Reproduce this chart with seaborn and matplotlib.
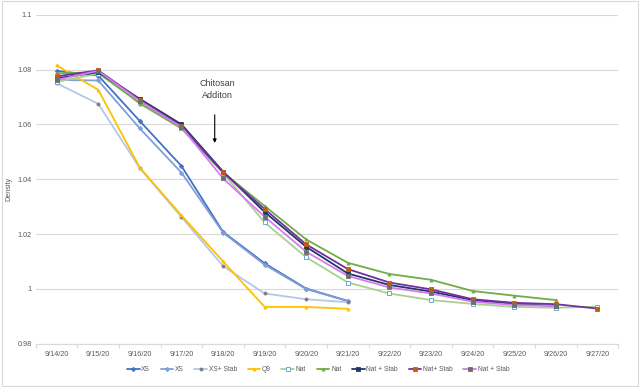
import matplotlib
matplotlib.use("Agg")
import matplotlib.pyplot as plt
import seaborn as sns
import numpy as np
from matplotlib.patches import Rectangle

dates = ["9/14/20", "9/15/20", "9/16/20", "9/17/20", "9/18/20", "9/19/20", "9/20/20",
         "9/21/20", "9/22/20", "9/23/20", "9/24/20", "9/25/20", "9/26/20", "9/27/20"]

xs_a = [1.0795, 1.0778, 1.0612, 1.0448, 1.0208, 1.0093, 1.0001, 0.9956]
xs_b = [1.0762, 1.0760, 1.0585, 1.0424, 1.0205, 1.0088, 0.9999, 0.9955]
xs_stab = [1.0750, 1.0675, 1.0440, 1.0262, 1.0083, 0.9983, 0.9962, 0.9951]
q9 = [1.0815, 1.0726, 1.0442, 1.0268, 1.0100, 0.9934, 0.9934, 0.9927]
nat_a = [1.0755, 1.0785, 1.0680, 1.0587, 1.0423, 1.0242, 1.0115, 1.0023, 0.9983, 0.9959,
         0.9945, 0.9934, 0.9931, 0.9935]
nat_b = [1.0786, 1.0790, 1.0676, 1.0585, 1.0425, 1.0302, 1.0180, 1.0095, 1.0054, 1.0033,
         0.9992, 0.9975, 0.9959]
nat_stab_a = [1.0768, 1.0790, 1.0693, 1.0600, 1.0428, 1.0280, 1.0153, 1.0056, 1.0014, 0.9990,
              0.9959, 0.9945, 0.9938]
nat_stab_b = [1.0775, 1.0797, 1.0690, 1.0594, 1.0425, 1.0291, 1.0162, 1.0072, 1.0023, 0.9998,
              0.9962, 0.9949, 0.9944, 0.9928]
nat_stab_c = [1.0762, 1.0795, 1.0685, 1.0590, 1.0403, 1.0263, 1.0135, 1.0047, 1.0005, 0.9983,
              0.9953, 0.9941, 0.9937]

labels = ["XS", "XS", "XS+ Stab", "Q9", "Nat", "Nat", "Nat + Stab", "Nat+ Stab", "Nat + Stab"]
series = [xs_a, xs_b, xs_stab, q9, nat_a, nat_b, nat_stab_a, nat_stab_b, nat_stab_c]
line_colors = ["#4472C4", "#7F9FD8", "#B4C7E7", "#FFC000", "#A9D18E", "#70AD47",
               "#1F3864", "#7030A0", "#D77CF0"]
marker_face = ["#4472C4", "#7F9FD8", "#7F7F7F", "#FFC000", "white", "#70AD47",
               "#1F3864", "#C55A11", "#6E6E6E"]
marker_edge = ["#4472C4", "#7F9FD8", "#7F7F7F", "#FFC000", "#5B9BD5", "#70AD47",
               "#1F3864", "#C55A11", "#6E6E6E"]
markers = ["D", "D", "o", "^", "s", "^", "s", "s", "s"]

sns.set_theme(style="white")
plt.rcParams['font.family'] = ['Liberation Sans', 'DejaVu Sans']

fig = plt.figure(figsize=(6.4, 3.87), dpi=100)
ax = fig.add_axes([0.056, 0.112, 0.910, 0.850])

for vals, lab, lc, mf, me, mk in zip(series, labels, line_colors, marker_face, marker_edge, markers):
    xpos = np.arange(len(vals))
    sns.lineplot(x=xpos, y=vals, ax=ax, color=lc, linewidth=1.3, marker=mk,
                 markersize=2.2, markerfacecolor=mf, markeredgecolor=me,
                 markeredgewidth=0.6, label=lab)

ax.set_xlim(-0.5, len(dates) - 0.5)
ax.set_ylim(0.98, 1.1)
ax.set_yticks([0.98, 1.0, 1.02, 1.04, 1.06, 1.08, 1.1])
ax.set_yticklabels(["0.98", "1", "1.02", "1.04", "1.06", "1.08", "1.1"])
ax.set_xticks(np.arange(len(dates)))
ax.set_xticklabels(dates)
ax.set_xticks(np.arange(len(dates) + 1) - 0.5, minor=True)
ax.tick_params(axis="x", which="major", length=0, pad=5, labelsize=5.2, labelcolor="#595959")
ax.tick_params(axis="x", which="minor", length=3, color="#D9D9D9", width=0.8, bottom=True)
ax.tick_params(axis="y", length=0, pad=3, labelsize=5.2, labelcolor="#595959")
ax.grid(axis="y", color="#D9D9D9", linewidth=0.8)
ax.grid(axis="x", visible=False)
for s in ["top", "right", "left"]:
    ax.spines[s].set_visible(False)
ax.spines["bottom"].set_color("#D9D9D9")
ax.spines["bottom"].set_linewidth(0.8)
ax.set_axisbelow(True)

ax.set_ylabel("Density", fontsize=5.2, color="#595959")
ax.yaxis.set_label_coords(-0.04, 0.47)
ax.set_xlabel("")

ax.annotate("", xy=(3.8, 1.0522), xytext=(3.8, 1.0645),
            arrowprops=dict(arrowstyle="-|>", color="black", lw=0.8, mutation_scale=5))
ax.text(3.86, 1.0728, "Chitosan\nAdditon", ha="center", va="center", fontsize=6.5,
        color="#404040", linespacing=1.5)

leg = ax.legend(loc="lower center", bbox_to_anchor=(0.497, 0.02), bbox_transform=fig.transFigure,
                ncol=9, fontsize=4.8, frameon=False, handlelength=1.9, columnspacing=1.6,
                handletextpad=0.25)
for t in leg.get_texts():
    t.set_color("#595959")

fig.patches.append(Rectangle((0.003, 0.003), 0.994, 0.994, transform=fig.transFigure,
                             fill=False, edgecolor="#D9D9D9", linewidth=0.8))

fig.savefig("out.png", dpi=100)
